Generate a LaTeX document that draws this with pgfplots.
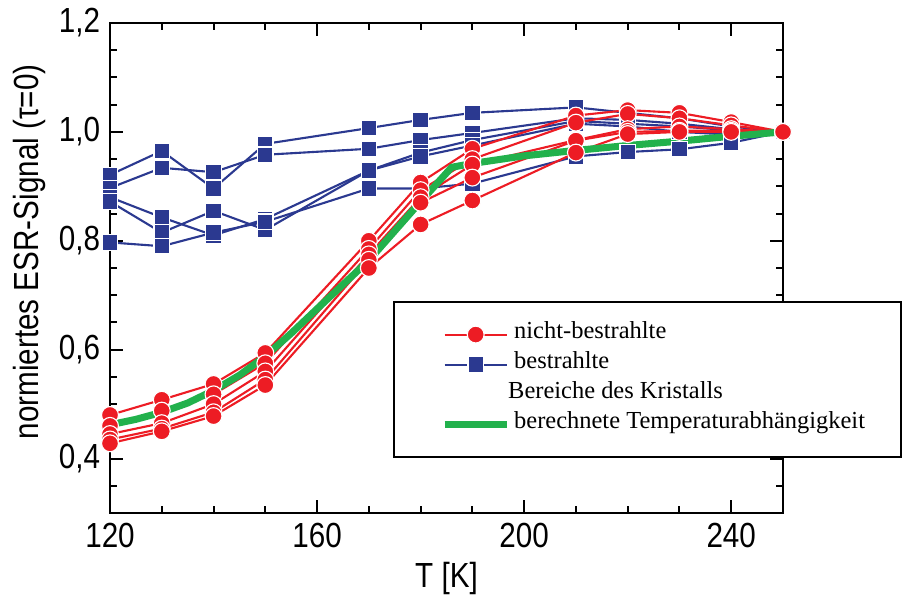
\documentclass[border=0pt]{standalone}
\usepackage{fontspec}
\setmainfont{Liberation Sans}
\newfontfamily\tnr{Liberation Serif}
\newfontfamily\narrowsans[FakeStretch=0.85]{Liberation Sans}
\usepackage{pgfplots}
\pgfplotsset{compat=1.18}
\definecolor{ored}{RGB}{237,28,36}
\definecolor{oblue}{RGB}{43,57,144}
\definecolor{ogreen}{RGB}{34,177,76}

\pgfplotsset{
  redser/.style={ored, line width=0.75pt, mark=*, mark size=3pt,
    mark options={fill=ored, draw=white, line width=0.4pt}},
  blueser/.style={oblue, line width=0.75pt, mark=square*, mark size=2.75pt,
    mark options={fill=oblue, draw=white, line width=0.4pt}},
}

\begin{document}
\begin{tikzpicture}
\path[use as bounding box] (-1.375cm,-1.15cm) rectangle (9.9375cm,6.4125cm);
\begin{axis}[
  at={(0,0)}, anchor=south west,
  width=8.4125cm, height=6.125cm, scale only axis,
  xmin=120, xmax=250, ymin=0.3, ymax=1.2,
  xtick={120,160,200,240},
  minor xtick={130,140,150,170,180,190,210,220,230},
  ytick={0.4,0.6,0.8,1.0,1.2},
  minor ytick={0.35,0.45,0.5,0.55,0.65,0.7,0.75,0.85,0.9,0.95,1.05,1.1,1.15},
  tick align=inside, tick pos=both,
  major tick length=0.16cm, minor tick length=0.085cm,
  axis line style={line width=0.85pt},
  every tick/.style={black, line width=0.7pt},
  clip=false,
  /pgf/number format/assume math mode=true,
  tick label style={font=\narrowsans\fontsize{12.4}{14}\selectfont},
  yticklabel style={/pgf/number format/.cd, fixed, fixed zerofill, precision=1, use comma},
  xticklabel style={/pgf/number format/.cd, fixed, precision=0},
  label style={font=\narrowsans\fontsize{12.4}{14}\selectfont},
  xlabel={T [K]},
  ylabel={normiertes ESR-Signal (τ=0)},
  xlabel style={at={(axis description cs:0.5,-0.133)}, anchor=center},
  ylabel style={at={(axis description cs:-0.119,0.533)}, anchor=center},
  legend cell align=left,
  legend image code/.code={
    \path (0cm,0cm);
    \draw[mark repeat=2, mark phase=2, #1] plot coordinates {(0.1375cm,0cm) (0.525cm,0cm) (0.9125cm,0cm)};
  },
  legend style={
    at={(axis description cs:0.4205,0.4327)}, anchor=north west,
    draw=black, line width=0.7pt, fill=white,
    inner xsep=0.4525cm, inner ysep=0.22cm,
    font=\tnr\fontsize{8.7}{10}\selectfont,
    nodes={inner sep=0pt, text height=0.24cm, text depth=0.135cm},
    column sep=0.05cm, row sep=0pt,
  },
]
\addlegendimage{redser}
\addlegendentry{nicht-bestrahlte}
\addlegendimage{blueser}
\addlegendentry{bestrahlte}
\addlegendimage{empty legend}
\addlegendentry{\hspace*{-0.075cm}Bereiche des Kristalls}
\addlegendimage{ogreen, line width=2.5pt}
\addlegendentry{berechnete Temperaturabhängigkeit}

% bestrahlte Bereiche
\addplot[blueser, forget plot] coordinates {(120,0.921) (130,0.965) (140,0.896) (150,0.978) (170,1.007) (180,1.022) (190,1.035) (210,1.045) (220,1.035) (230,1.025) (240,1.010) (250,1.0)};
\addplot[blueser, forget plot] coordinates {(120,0.897) (130,0.934) (140,0.926) (150,0.958) (170,0.969) (180,0.985) (190,0.998) (210,1.025) (220,1.022) (230,1.015) (240,1.005) (250,1.0)};
\addplot[blueser, forget plot] coordinates {(120,0.880) (130,0.843) (140,0.810) (150,0.840) (170,0.929) (180,0.962) (190,0.985) (210,1.020) (220,1.015) (230,1.010) (240,1.003) (250,1.0)};
\addplot[blueser, forget plot] coordinates {(120,0.872) (130,0.815) (140,0.855) (150,0.820) (170,0.929) (180,0.955) (190,0.975) (210,1.015) (220,1.010) (230,1.000) (240,0.995) (250,1.0)};
\addplot[blueser, forget plot] coordinates {(120,0.797) (130,0.790) (140,0.815) (150,0.835) (170,0.896) (180,0.896) (190,0.905) (210,0.955) (220,0.963) (230,0.968) (240,0.980) (250,1.0)};

% nicht-bestrahlte Bereiche
\addplot[redser, forget plot] coordinates {(120,0.480) (130,0.508) (140,0.537) (150,0.594) (170,0.800) (180,0.907) (190,0.969) (210,1.030) (220,1.040) (230,1.035) (240,1.018) (250,1.0)};
\addplot[redser, forget plot] coordinates {(120,0.460) (130,0.488) (140,0.518) (150,0.575) (170,0.785) (180,0.893) (190,0.950) (210,1.017) (220,1.033) (230,1.025) (240,1.012) (250,1.0)};
\addplot[redser, forget plot] coordinates {(120,0.445) (130,0.465) (140,0.500) (150,0.560) (170,0.775) (180,0.880) (190,0.940) (210,0.985) (220,1.005) (230,1.010) (240,1.005) (250,1.0)};
\addplot[redser, forget plot] coordinates {(120,0.435) (130,0.455) (140,0.485) (150,0.545) (170,0.765) (180,0.870) (190,0.916) (210,0.984) (220,1.000) (230,1.002) (240,1.002) (250,1.0)};
\addplot[redser, forget plot] coordinates {(120,0.428) (130,0.450) (140,0.478) (150,0.535) (170,0.750) (180,0.830) (190,0.874) (210,0.962) (220,0.996) (230,1.000) (240,1.000) (250,1.0)};

% berechnete Temperaturabhaengigkeit
\addplot[ogreen, line width=2.5pt, forget plot] coordinates {(120,0.462) (125,0.472) (130,0.485) (135,0.502) (140,0.525) (145,0.553) (150,0.588) (155,0.630) (160,0.675) (170,0.764) (180,0.872) (186,0.935) (190,0.942) (200,0.956) (210,0.966) (220,0.975) (230,0.983) (240,0.992) (250,1.0)};
\end{axis}
\end{tikzpicture}
\end{document}
